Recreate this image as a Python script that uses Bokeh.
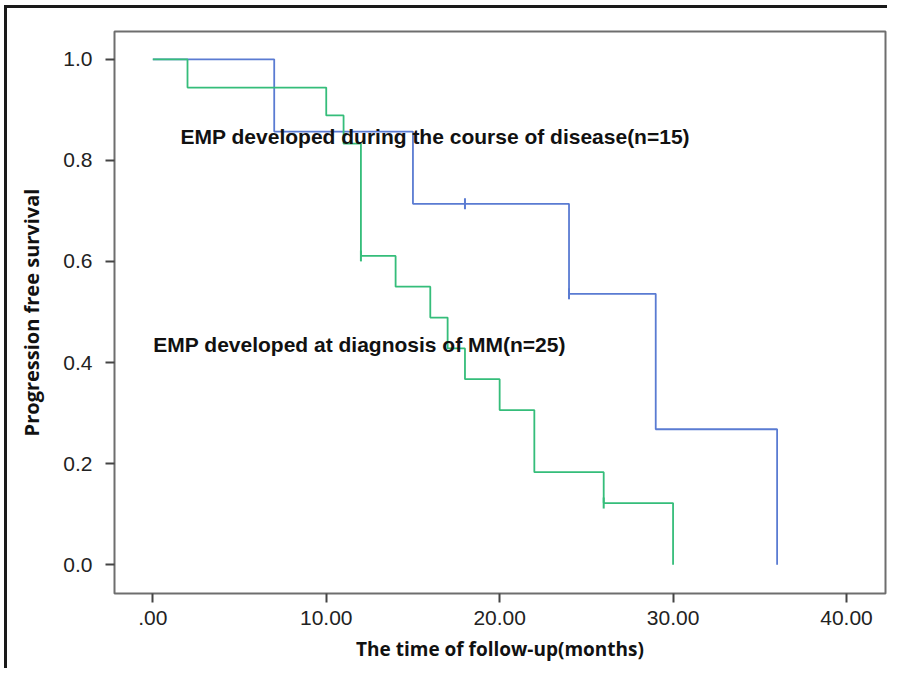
import numpy as np
from bokeh.plotting import figure
from bokeh.models import FixedTicker, Label
from bokeh.embed import file_html
from bokeh.resources import INLINE

# ---- data ----
blue_time = [0, 7, 15, 24, 29, 36]
blue_surv = [1.0, 0.857, 0.714, 0.536, 0.268, 0.0]
blue_cens_time = [18, 24]
blue_cens_surv = [0.714, 0.536]

green_time = [0, 2, 10, 11, 12, 14, 16, 17, 18, 20, 22, 26, 30]
green_surv = [1.0, 0.944, 0.889, 0.833, 0.611, 0.550, 0.489, 0.428,
              0.367, 0.306, 0.183, 0.122, 0.0]
green_cens_time = [12, 26]
green_cens_surv = [0.611, 0.122]

x_ticks = [0, 10, 20, 30, 40]
x_tick_labels = [".00", "10.00", "20.00", "30.00", "40.00"]
y_ticks = [0.0, 0.2, 0.4, 0.6, 0.8, 1.0]
y_tick_labels = ["0.0", "0.2", "0.4", "0.6", "0.8", "1.0"]

label_blue = "EMP developed during the course of disease(n=15)"
label_green = "EMP developed at diagnosis of MM(n=25)"
label_blue_pos = (1.6, 0.847)
label_green_pos = (0.03, 0.436)

BLUE = "#5a7bd2"
GREEN = "#35bd7a"

p = figure(
    frame_width=771, frame_height=562,
    x_range=(-2.21, 42.25), y_range=(-0.057, 1.055),
    output_backend="svg", toolbar_location=None,
    min_border_left=107, min_border_top=23, min_border_right=2, min_border_bottom=75,
    background_fill_color="white", border_fill_color="white",
)
# outer picture border (left and top edges) drawn as CSS border of the plot element
p.styles = {"border-left": "3px solid #1a1a1a", "border-top": "3px solid #1a1a1a",
            "margin-left": "4px", "margin-top": "5px"}

p.grid.visible = False
p.outline_line_color = "#6e6e6e"
p.outline_line_width = 2

for ax in (p.xaxis[0], p.yaxis[0]):
    ax.axis_line_color = None
    ax.major_tick_in = 0
    ax.major_tick_out = 9
    ax.major_tick_line_color = "#444444"
    ax.major_tick_line_width = 2
    ax.minor_tick_line_color = None
    ax.major_label_text_font = "Liberation Sans"
    ax.major_label_text_font_size = "21px"
    ax.major_label_text_color = "#222222"
    ax.axis_label_text_font = "Open Sans"
    ax.axis_label_text_font_style = "bold"
    ax.axis_label_text_color = "#111111"

p.xaxis.axis_label_text_font_size = "19px"
p.yaxis.axis_label_text_font_size = "20px"
p.xaxis.ticker = FixedTicker(ticks=x_ticks)
p.xaxis.major_label_overrides = {t: l for t, l in zip(x_ticks, x_tick_labels)}
p.yaxis.ticker = FixedTicker(ticks=y_ticks)
p.yaxis.major_label_overrides = {t: l for t, l in zip(y_ticks, y_tick_labels)}
p.xaxis.major_label_standoff = 8
p.yaxis.major_label_standoff = 13
p.xaxis.axis_label = "The time of follow-up(months)"
p.yaxis.axis_label = "Progression free survival"
p.xaxis.axis_label_standoff = 8
p.yaxis.axis_label_standoff = 15

# curves (blue first, green on top)
p.step(blue_time, blue_surv, mode="after", line_color=BLUE, line_width=1.8)
p.scatter(blue_cens_time, blue_cens_surv, marker="dash", angle=np.pi / 2,
          size=11, line_color=BLUE, line_width=2)
p.step(green_time, green_surv, mode="after", line_color=GREEN, line_width=1.8)
p.scatter(green_cens_time, green_cens_surv, marker="dash", angle=np.pi / 2,
          size=11, line_color=GREEN, line_width=2)

for txt, (lx, ly) in ((label_blue, label_blue_pos), (label_green, label_green_pos)):
    p.add_layout(Label(x=lx, y=ly, text=txt, text_font="Liberation Sans",
                       text_font_style="bold", text_font_size="21px",
                       text_color="#111111", text_baseline="alphabetic"))

open("out.html", "w").write(file_html(p, INLINE))
